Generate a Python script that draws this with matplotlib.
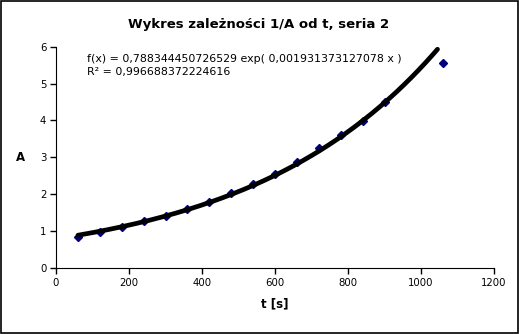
import matplotlib
matplotlib.use("Agg")
import matplotlib.pyplot as plt
import matplotlib.patches as mpatches
import numpy as np

# measured points, series 2
t = [60, 120, 180, 240, 300, 360, 420, 480, 540, 600, 660, 720, 780, 840, 900, 1060]
A = [0.83, 0.97, 1.10, 1.27, 1.42, 1.60, 1.80, 2.03, 2.28, 2.55, 2.88, 3.25, 3.61, 3.99, 4.51, 5.57]

# exponential trend line coefficients
a_fit = 0.788344450726529
b_fit = 0.001931373127078
t_fit_end = 1045

x_ticks = [0, 200, 400, 600, 800, 1000, 1200]
y_ticks = [0, 1, 2, 3, 4, 5, 6]

fig = plt.figure(figsize=(5.19, 3.34), dpi=100)
ax = fig.add_axes([0.108, 0.198, 0.844, 0.662])

tt = np.linspace(t[0], t_fit_end, 300)
ax.plot(tt, a_fit * np.exp(b_fit * tt), color='black', lw=3.4, zorder=3,
        solid_capstyle='round')
ax.plot(t, A, 'D', color='#000080', ms=4.3, mec='#000080', zorder=2)

ax.set_xlim(0, 1200)
ax.set_ylim(0, 6)
ax.set_xticks(x_ticks)
ax.set_yticks(y_ticks)
ax.tick_params(direction='out', length=4, width=1, labelsize=7.3, pad=3)
ax.spines['top'].set_visible(False)
ax.spines['right'].set_visible(False)

ax.set_xlabel('t [s]', fontsize=8.5, fontweight='bold', labelpad=7)
ax.set_ylabel('A', fontsize=8.5, fontweight='bold', rotation=0, labelpad=14, va='center')
fig.text(0.498, 0.928, 'Wykres zależności 1/A od t, seria 2', ha='center', va='center',
         fontsize=9.5, fontweight='bold')

ax.text(0.071, 0.965, 'f(x) = 0,788344450726529 exp( 0,001931373127078 x )\nR² = 0,996688372224616',
        transform=ax.transAxes, fontsize=7.9, va='top', ha='left', linespacing=1.3)

fig.patches.append(mpatches.Rectangle((0.001, 0.002), 0.997, 0.995, transform=fig.transFigure,
                                      fill=False, edgecolor='black', lw=1.2))

fig.savefig('out.png', dpi=100)
